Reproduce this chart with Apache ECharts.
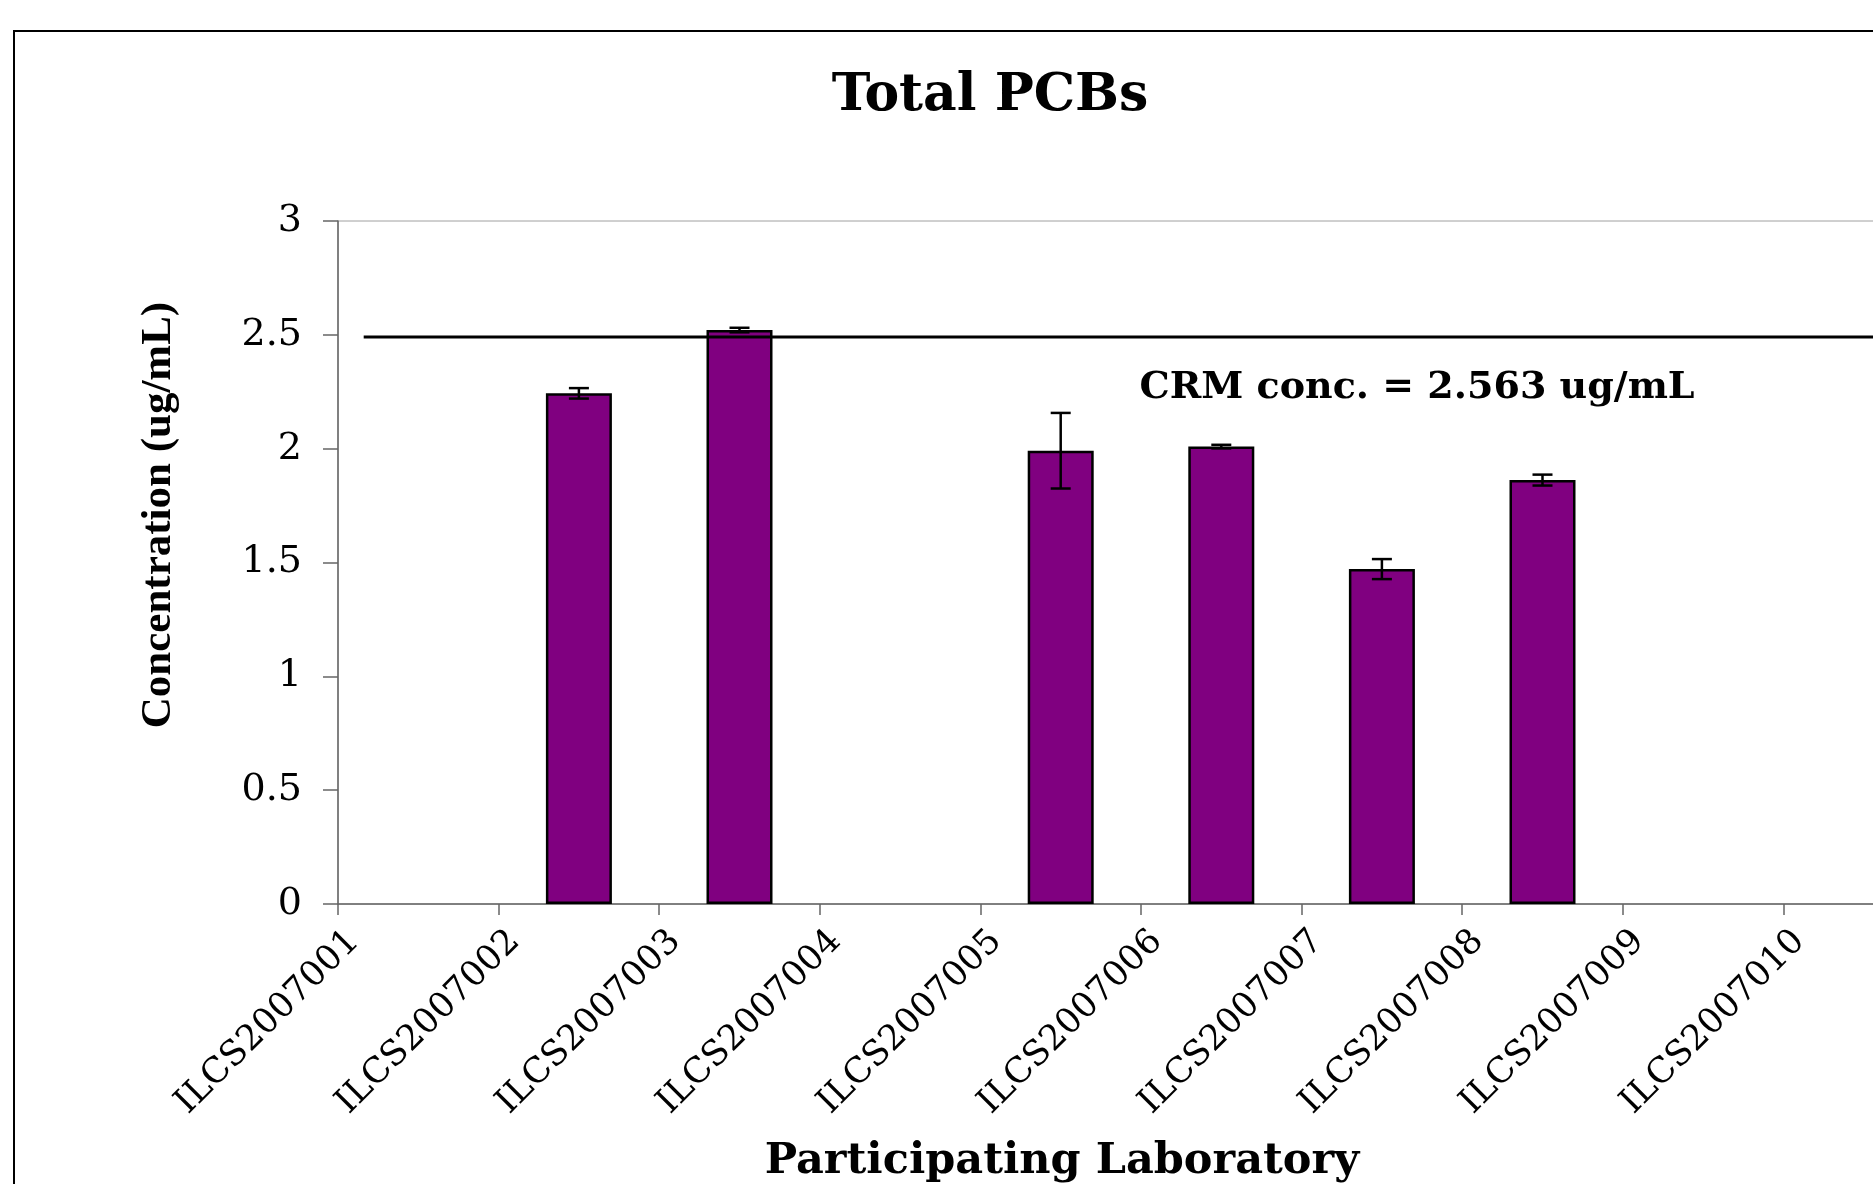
<!DOCTYPE html>
<html>
<head>
<meta charset="utf-8">
<script src="https://cdn.jsdelivr.net/npm/echarts@6/dist/echarts.min.js"></script>
<style>
  html, body { margin: 0; padding: 0; background: #fff; }
  #chart { width: 1873px; height: 1184px; }
</style>
</head>
<body>
<div id="chart"></div>
<script>
// lab codes, one per category slot
const labs = ['ILCS2007001', 'ILCS2007002', 'ILCS2007003', 'ILCS2007004', 'ILCS2007005',
  'ILCS2007006', 'ILCS2007007', 'ILCS2007008', 'ILCS2007009', 'ILCS2007010']
// mean concentration (ug/mL) and its error, null = no result
const conc = [null, 2.243, 2.521, null, 1.991, 2.009, 1.471, 1.862, null, null]
const errs = [null, 0.023, 0.010, null, 0.166, 0.008, 0.044, 0.024, null, null]
// reference line
const crmLevel = 2.49
const crmFrom = 0.16
const crmTo = 10
const crmText = 'CRM conc. = 2.563 ug/mL'
const yMin = 0
const yMax = 3
const yStep = 0.5

const serif = 'DejaVu Serif'
const errData = []
conc.forEach(function (v, i) {
  if (v !== null) errData.push([i, v - errs[i], v + errs[i]])
})

const chart = echarts.init(document.getElementById('chart'))
chart.setOption({
  animation: false,
  backgroundColor: '#fff',
  grid: [
    { left: 338, top: 221, right: -71, bottom: 280, show: true, borderColor: '#a0a0a0', borderWidth: 1, outerBoundsMode: 'none' },
    { left: 354, top: 221, right: -87, bottom: 280, outerBoundsMode: 'none' }
  ],
  xAxis: [
    {
      type: 'category', gridIndex: 0, position: 'bottom', data: labs, boundaryGap: true,
      axisLine: { show: true, lineStyle: { color: '#666', width: 1.5 } },
      axisTick: { show: false }, axisLabel: { show: false }, splitLine: { show: false }
    },
    {
      type: 'category', gridIndex: 0, position: 'bottom', offset: 0, data: labs.concat(['']), boundaryGap: false,
      axisLine: { show: false },
      axisTick: { show: true, interval: 0, length: 11, lineStyle: { color: '#666', width: 1.5 } },
      axisLabel: { show: false }, splitLine: { show: false }
    },
    {
      type: 'category', gridIndex: 1, position: 'bottom', data: labs.concat(['']), boundaryGap: false,
      axisLine: { show: false }, axisTick: { show: false }, splitLine: { show: false },
      axisLabel: { interval: 0, rotate: 45, margin: 32, color: '#000', fontFamily: serif, fontSize: 35 }
    },
    { type: 'value', gridIndex: 0, position: 'bottom', min: 0, max: 10, show: false }
  ],
  yAxis: [
    {
      type: 'value', gridIndex: 0, min: yMin, max: yMax, interval: yStep,
      axisLine: { show: true, lineStyle: { color: '#666', width: 1.5 } },
      axisTick: { show: true, length: 15, lineStyle: { color: '#666', width: 1.5 } },
      axisLabel: { color: '#000', fontFamily: serif, fontSize: 38, margin: 36 },
      splitLine: { show: false }
    },
    { type: 'value', gridIndex: 1, min: yMin, max: yMax, show: false }
  ],
  graphic: [
    {
      type: 'rect', silent: true,
      shape: { x: 14, y: 31, width: 3000, height: 3000 },
      style: { fill: 'none', stroke: '#000', lineWidth: 2 }
    },
    {
      type: 'text', x: 990, y: 96,
      style: { text: 'Total PCBs', fill: '#000', font: 'bold 52px "DejaVu Serif"', textAlign: 'center', textVerticalAlign: 'middle' }
    },
    {
      type: 'text', x: 159, y: 515, rotation: Math.PI / 2,
      style: { text: 'Concentration (ug/mL)', fill: '#000', font: 'bold 43px "Liberation Serif"', textAlign: 'center', textVerticalAlign: 'middle' }
    },
    {
      type: 'text', x: 1062, y: 1162,
      style: { text: 'Participating Laboratory', fill: '#000', font: 'bold 43px "DejaVu Serif"', textAlign: 'center', textVerticalAlign: 'middle' }
    },
    {
      type: 'text', x: 1417, y: 388,
      style: { text: crmText, fill: '#000', font: 'bold 38px "DejaVu Serif"', textAlign: 'center', textVerticalAlign: 'middle' }
    }
  ],
  series: [
    {
      type: 'bar', xAxisIndex: 0, yAxisIndex: 0, data: conc, barWidth: 66,
      itemStyle: { color: '#800080', borderColor: '#000', borderWidth: 2.5 }
    },
    {
      type: 'custom', xAxisIndex: 0, yAxisIndex: 0, data: errData, z: 5,
      renderItem: function (params, api) {
        const lo = api.coord([api.value(0), api.value(1)])
        const hi = api.coord([api.value(0), api.value(2)])
        const w = 10
        const st = { stroke: '#000', lineWidth: 2.5 }
        return {
          type: 'group',
          children: [
            { type: 'line', shape: { x1: lo[0], y1: lo[1], x2: hi[0], y2: hi[1] }, style: st },
            { type: 'line', shape: { x1: lo[0] - w, y1: lo[1], x2: lo[0] + w, y2: lo[1] }, style: st },
            { type: 'line', shape: { x1: hi[0] - w, y1: hi[1], x2: hi[0] + w, y2: hi[1] }, style: st }
          ]
        }
      }
    },
    {
      type: 'line', xAxisIndex: 3, yAxisIndex: 0, symbol: 'none', z: 4,
      data: [[crmFrom, crmLevel], [crmTo, crmLevel]],
      lineStyle: { color: '#000', width: 3 }
    }
  ]
})
</script>
</body>
</html>
